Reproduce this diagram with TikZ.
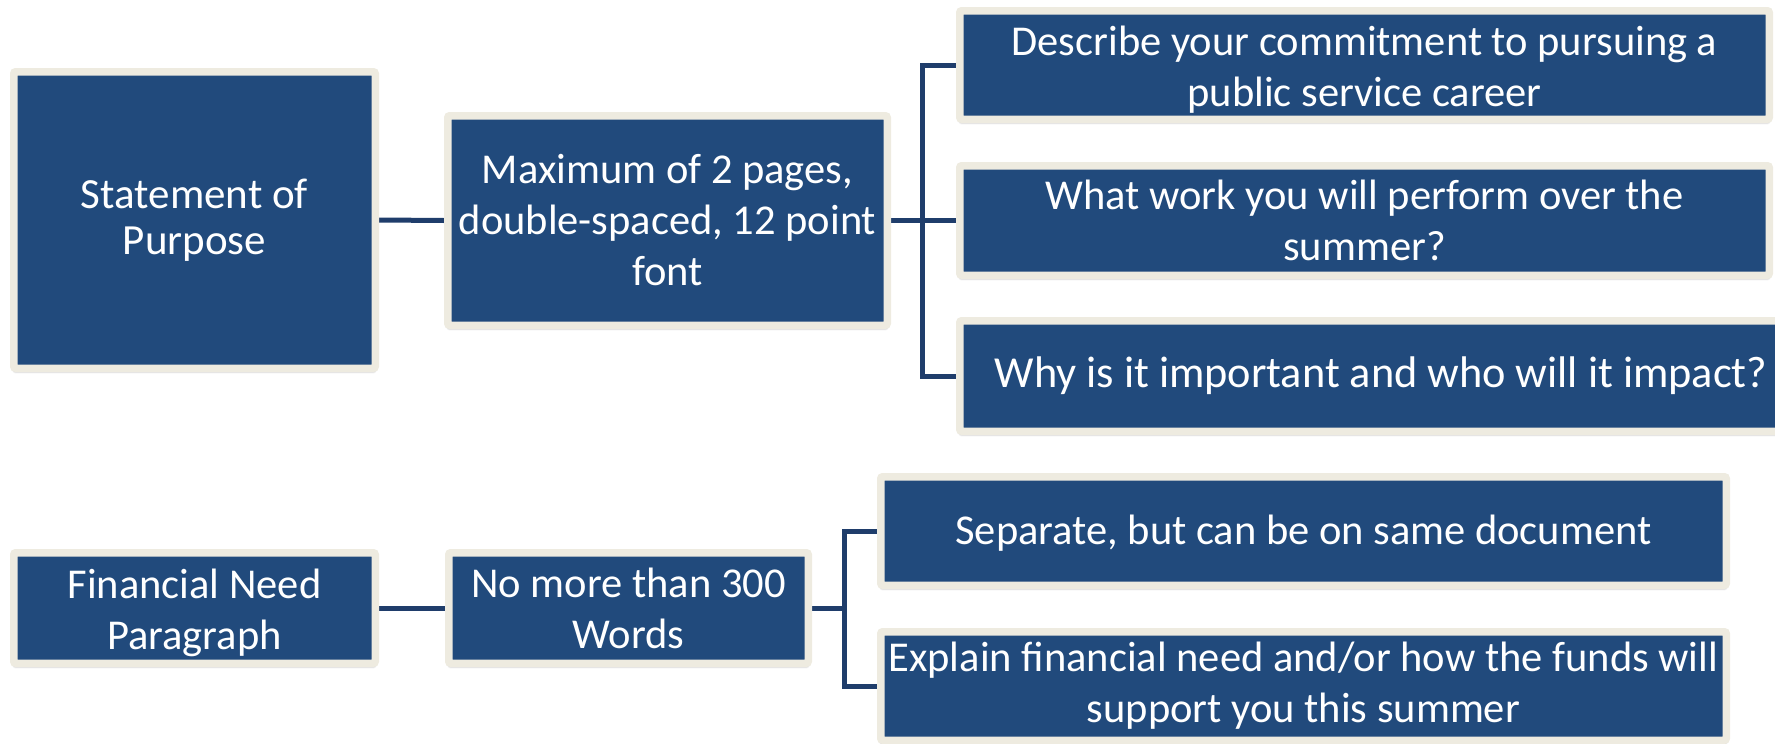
\documentclass[tikz,border=0pt]{standalone}
\usepackage{fontspec}
\setmainfont{Carlito}
\usetikzlibrary{shadows.blur,backgrounds}
\definecolor{boxblue}{HTML}{214A7C}
\definecolor{cream}{HTML}{EEEBE0}
\definecolor{linkblue}{HTML}{1F3D6B}
\begin{document}
\begin{tikzpicture}[x=1pt,y=-1pt,
  box/.style={draw=cream, fill=boxblue, line width=7.5pt, rounded corners=2pt,
    inner sep=0pt, align=center, text=white,
    font=\fontsize{42.5}{51}\selectfont,
    blur shadow={shadow xshift=0pt, shadow yshift=-3.5pt, shadow opacity=35, shadow blur steps=6, shadow blur extra rounding=2pt}},
  link/.style={draw=linkblue, line width=5pt}]
\useasboundingbox (0,0) rectangle (1775,744);
\clip (0,0) rectangle (1775,744);

\node[box, minimum width=361.5pt, minimum height=296.5pt, font=\fontsize{43}{46}\selectfont] (sop) at (194.5,220) {Statement of\\Purpose};
\node[box, minimum width=439.5pt, minimum height=209.5pt] (max) at (667.5,220.5) {Maximum of 2 pages,\\double-spaced, 12 point\\font};
\node[box, minimum width=809.5pt, minimum height=108.5pt] (d1) at (1364.5,65) {\rule{0pt}{39pt}Describe your commitment to pursuing a\\public service career};
\node[box, minimum width=809.5pt, minimum height=109.5pt] (d2) at (1364.5,220.5) {What work you will perform over the\\summer?};
\node[box, minimum width=842.5pt, minimum height=110.5pt, font=\fontsize{44.3}{51}\selectfont] (d3) at (1381,376) {Why is it important and who will it impact?};

\node[box, minimum width=361.5pt, minimum height=110.5pt] (fn) at (194.5,608) {\rule{0pt}{39pt}Financial Need\\Paragraph};
\node[box, minimum width=359.5pt, minimum height=110.5pt] (nm) at (628.5,608) {No more than 300\\Words};
\node[box, minimum width=845.5pt, minimum height=108.5pt] (sep) at (1303.5,531) {\rule{0pt}{34pt}Separate, but can be on same document};
\node[box, minimum width=845.5pt, minimum height=108.5pt] (exp) at (1303.5,686) {Explain financial need and/or how the funds will\\support you this summer};

\coordinate (br1) at (922,220.5);
\coordinate (br2) at (844,608);

\begin{scope}[on background layer]
\draw[link] (sop.east) -- (max.west);
\draw[link] (max.east) -- (br1);
\draw[link] (d1.west) -| (br1) |- (d3.west);
\draw[link] (br1) -- (d2.west);
\draw[link] (fn.east) -- (nm.west);
\draw[link] (nm.east) -- (br2);
\draw[link] (sep.west) -| (br2) |- (exp.west);
\end{scope}
\end{tikzpicture}
\end{document}
